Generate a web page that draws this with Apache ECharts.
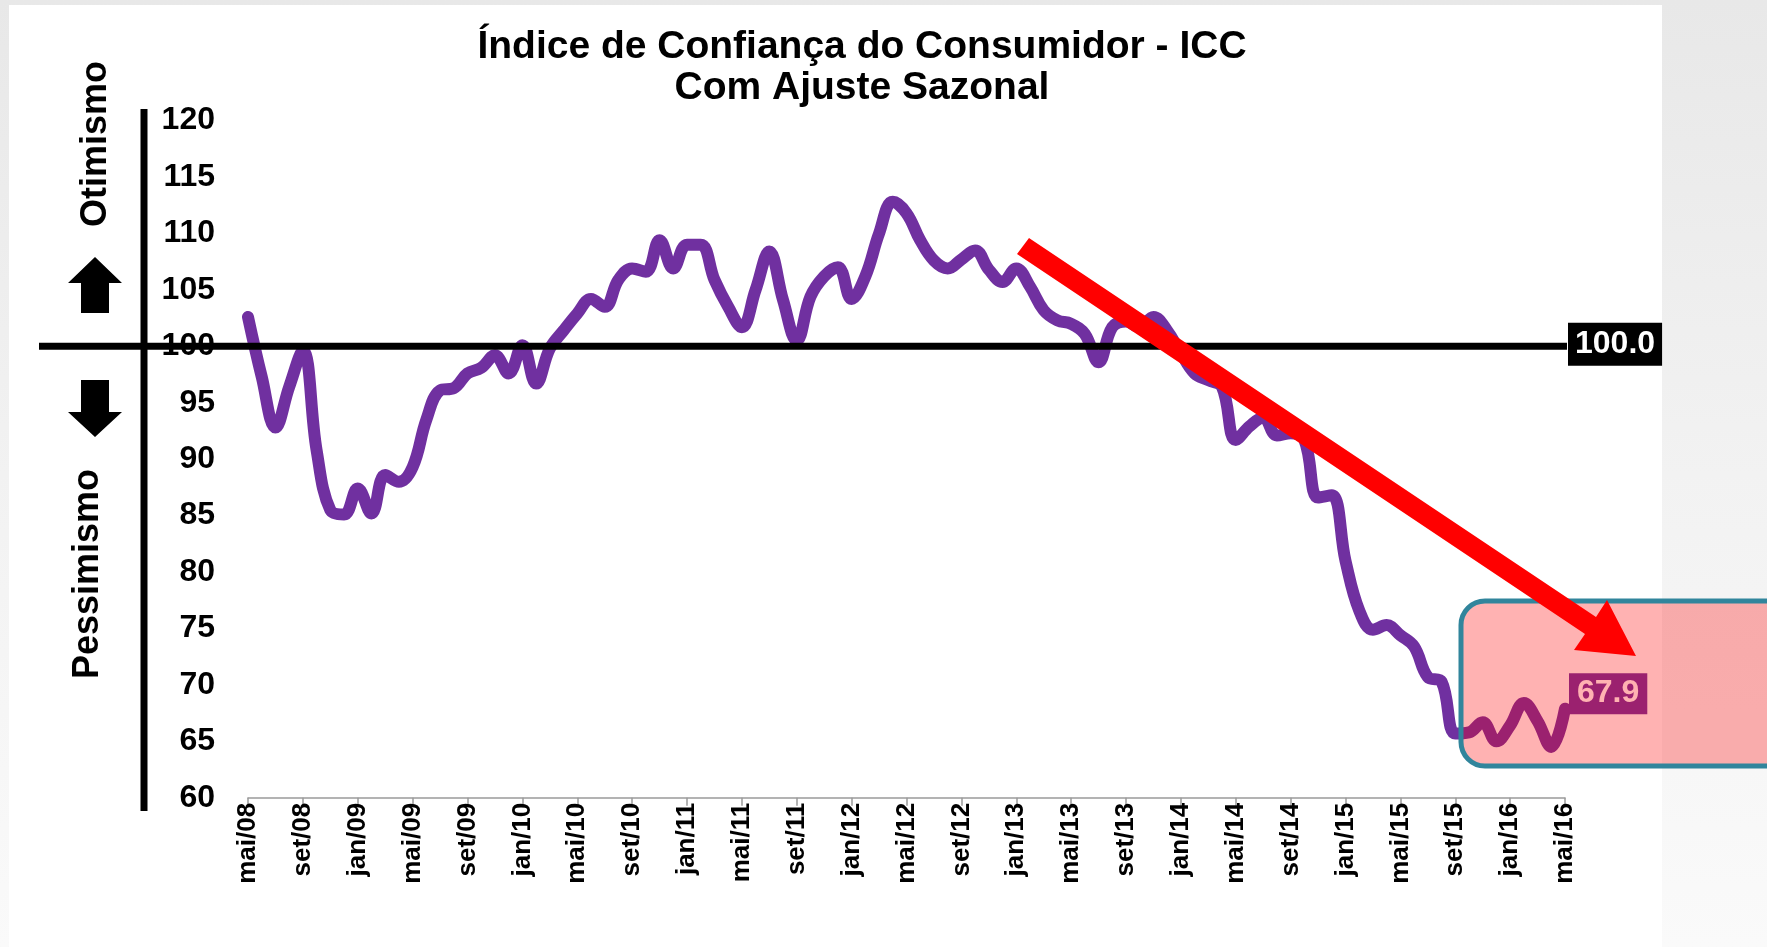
<!DOCTYPE html>
<html>
<head>
<meta charset="utf-8">
<script src="https://cdn.jsdelivr.net/npm/echarts@6.0.0/dist/echarts.min.js"></script>
<style>
html,body{margin:0;padding:0;width:1767px;height:947px;overflow:hidden;
  background:linear-gradient(180deg,#e8e8e8 0%,#f2f2f2 50%,#fafafa 100%);}
#card{position:absolute;left:9px;top:5px;width:1653px;height:942px;background:#fff;}
#main{position:absolute;left:0;top:0;width:1767px;height:947px;}
</style>
</head>
<body>
<div id="card"></div>
<div id="main"></div>
<script>
// meses (mai/08 .. mai/16)
var meses = [
  'mai/08','jun/08','jul/08','ago/08','set/08','out/08','nov/08','dez/08',
  'jan/09','fev/09','mar/09','abr/09','mai/09','jun/09','jul/09','ago/09','set/09','out/09','nov/09','dez/09',
  'jan/10','fev/10','mar/10','abr/10','mai/10','jun/10','jul/10','ago/10','set/10','out/10','nov/10','dez/10',
  'jan/11','fev/11','mar/11','abr/11','mai/11','jun/11','jul/11','ago/11','set/11','out/11','nov/11','dez/11',
  'jan/12','fev/12','mar/12','abr/12','mai/12','jun/12','jul/12','ago/12','set/12','out/12','nov/12','dez/12',
  'jan/13','fev/13','mar/13','abr/13','mai/13','jun/13','jul/13','ago/13','set/13','out/13','nov/13','dez/13',
  'jan/14','fev/14','mar/14','abr/14','mai/14','jun/14','jul/14','ago/14','set/14','out/14','nov/14','dez/14',
  'jan/15','fev/15','mar/15','abr/15','mai/15','jun/15','jul/15','ago/15','set/15','out/15','nov/15','dez/15',
  'jan/16','fev/16','mar/16','abr/16','mai/16'
]

// ICC com ajuste sazonal
var icc = [
  102.6, 97.3, 92.8, 96.4, 99.6, 90.8, 85.5, 85.1,
  87.4, 85.2, 88.6, 88.0, 89.3, 93.5, 96.1, 96.3, 97.6, 98.1, 99.2, 97.6,
  100.1, 96.7, 99.8, 101.4, 102.9, 104.2, 103.5, 105.9, 106.9, 106.6, 109.4, 106.9,
  109.0, 109.0, 105.9, 103.5, 101.7, 105.0, 108.4, 104.1, 100.5, 104.4, 106.2, 107.0,
  104.2, 106.2, 110.0, 112.8, 111.8, 109.4, 107.6, 106.9, 107.7, 108.5, 106.8, 105.7,
  106.9, 105.3, 103.2, 102.3, 102.0, 101.1, 98.6, 101.7, 102.2, 101.7, 102.6, 101.4,
  99.4, 97.6, 97.0, 96.4, 91.7, 92.9, 93.7, 92.1, 92.3, 91.7, 86.6, 86.8,
  81.0, 76.6, 74.9, 75.3, 74.4, 73.4, 70.7, 70.3, 65.7, 65.8, 66.7, 65.0,
  66.4, 68.4, 66.8, 64.5, 67.9
]

var titulo = ['Índice de Confiança do Consumidor - ICC', 'Com Ajuste Sazonal']
var rotulos = ['Otimismo', 'Pessimismo']
var yMin = 60, yMax = 120, yPasso = 5
var passoMeses = 4
var referencia = 100

var fonte = '"Liberation Sans", Arial, sans-serif'
var ultimo = icc[icc.length - 1]

var myChart = echarts.init(document.getElementById('main'))
myChart.setOption({
  animation: false,
  backgroundColor: 'transparent',
  grid: { left: 248, right: 202, top: 120.6, bottom: 149.2, outerBoundsMode: 'none' },
  xAxis: {
    type: 'category',
    data: meses,
    boundaryGap: false,
    axisLine: { lineStyle: { color: '#9a9a9a', width: 1.5 } },
    axisTick: { interval: passoMeses - 1, length: 8, lineStyle: { color: '#9a9a9a', width: 1.5 } },
    axisLabel: { show: false },
    splitLine: { show: false }
  },
  yAxis: {
    type: 'value',
    min: yMin, max: yMax, interval: yPasso,
    splitLine: { show: false },
    axisLine: { show: false },
    axisTick: { show: false },
    axisLabel: { margin: 33, color: '#000', fontFamily: fonte, fontWeight: 'bold', fontSize: 32 }
  },
  series: [{
    type: 'line',
    data: icc,
    smooth: 0.4,
    symbol: 'none',
    z: 2,
    lineStyle: { color: '#7030A0', width: 12, cap: 'round', join: 'round' },
    endLabel: {
      show: true,
      formatter: ultimo.toFixed(1),
      distance: 4,
      offset: [0, -15],
      backgroundColor: '#7030A0',
      color: '#fff',
      padding: [5, 8, 4, 8],
      fontFamily: fonte, fontWeight: 'bold', fontSize: 32
    }
  }]
})

// anotacoes
var y100 = myChart.convertToPixel({ yAxisIndex: 0 }, referencia)
var yBase = myChart.convertToPixel({ yAxisIndex: 0 }, yMin)
var xFim = myChart.convertToPixel({ xAxisIndex: 0 }, meses.length - 1)

var extras = []
// rotulos do eixo x (a cada 4 meses)
for (var i = 0; i < meses.length; i += passoMeses) {
  extras.push({
    type: 'text', x: myChart.convertToPixel({ xAxisIndex: 0 }, i), y: yBase + 5,
    rotation: Math.PI / 2, z: 10,
    style: { text: meses[i], textAlign: 'right', verticalAlign: 'middle', textVerticalAlign: 'middle',
      fill: '#000', font: 'bold 26px ' + fonte }
  })
}

extras = extras.concat([
  { type: 'text', x: 862, y: 47, z: 20,
    style: { text: titulo[0], textAlign: 'center', textVerticalAlign: 'middle', verticalAlign: 'middle',
      fill: '#000', font: 'bold 39px ' + fonte } },
  { type: 'text', x: 862, y: 88, z: 20,
    style: { text: titulo[1], textAlign: 'center', textVerticalAlign: 'middle', verticalAlign: 'middle',
      fill: '#000', font: 'bold 39px ' + fonte } },
  // eixo vertical preto
  { type: 'line', z: 10, shape: { x1: 144, y1: 109, x2: 144, y2: 811 },
    style: { stroke: '#000', lineWidth: 7 } },
  // linha 100
  { type: 'line', z: 10, shape: { x1: 39, y1: y100, x2: xFim + 2, y2: y100 },
    style: { stroke: '#000', lineWidth: 7 } },
  { type: 'text', x: xFim + 3, y: y100 - 2, z: 11,
    style: { text: referencia.toFixed(1), textAlign: 'left', verticalAlign: 'middle', textVerticalAlign: 'middle',
      fill: '#fff', backgroundColor: '#000', padding: [6, 7, 5, 7], font: 'bold 32px ' + fonte } },
  // setas otimismo / pessimismo
  { type: 'polygon', z: 10, shape: { points: [[95, 257], [122, 283], [109, 283], [109, 313], [81, 313], [81, 283], [68, 283]] },
    style: { fill: '#000' } },
  { type: 'polygon', z: 10, shape: { points: [[81, 380], [109, 380], [109, 412], [122, 412], [95, 437], [68, 412], [81, 412]] },
    style: { fill: '#000' } },
  { type: 'text', x: 96, y: 144, rotation: Math.PI / 2, z: 10,
    style: { text: rotulos[0], textAlign: 'center', verticalAlign: 'middle', textVerticalAlign: 'middle',
      fill: '#000', font: 'bold 36px ' + fonte } },
  { type: 'text', x: 88, y: 574, rotation: Math.PI / 2, z: 10,
    style: { text: rotulos[1], textAlign: 'center', verticalAlign: 'middle', textVerticalAlign: 'middle',
      fill: '#000', font: 'bold 36px ' + fonte } },
  // caixa rosa
  { type: 'rect', z: 12, shape: { x: 1461, y: 601, width: 340, height: 165, r: 24 },
    style: { fill: 'rgba(255,0,0,0.3)', stroke: '#31859C', lineWidth: 5 } },
  // seta vermelha
  { type: 'polygon', z: 14,
    shape: { points: [[1029, 238], [1596, 617], [1607, 600], [1636, 656], [1574, 650], [1585, 634], [1017, 254]] },
    style: { fill: '#ff0000' } }
])

myChart.setOption({ graphic: extras })
</script>
</body>
</html>
